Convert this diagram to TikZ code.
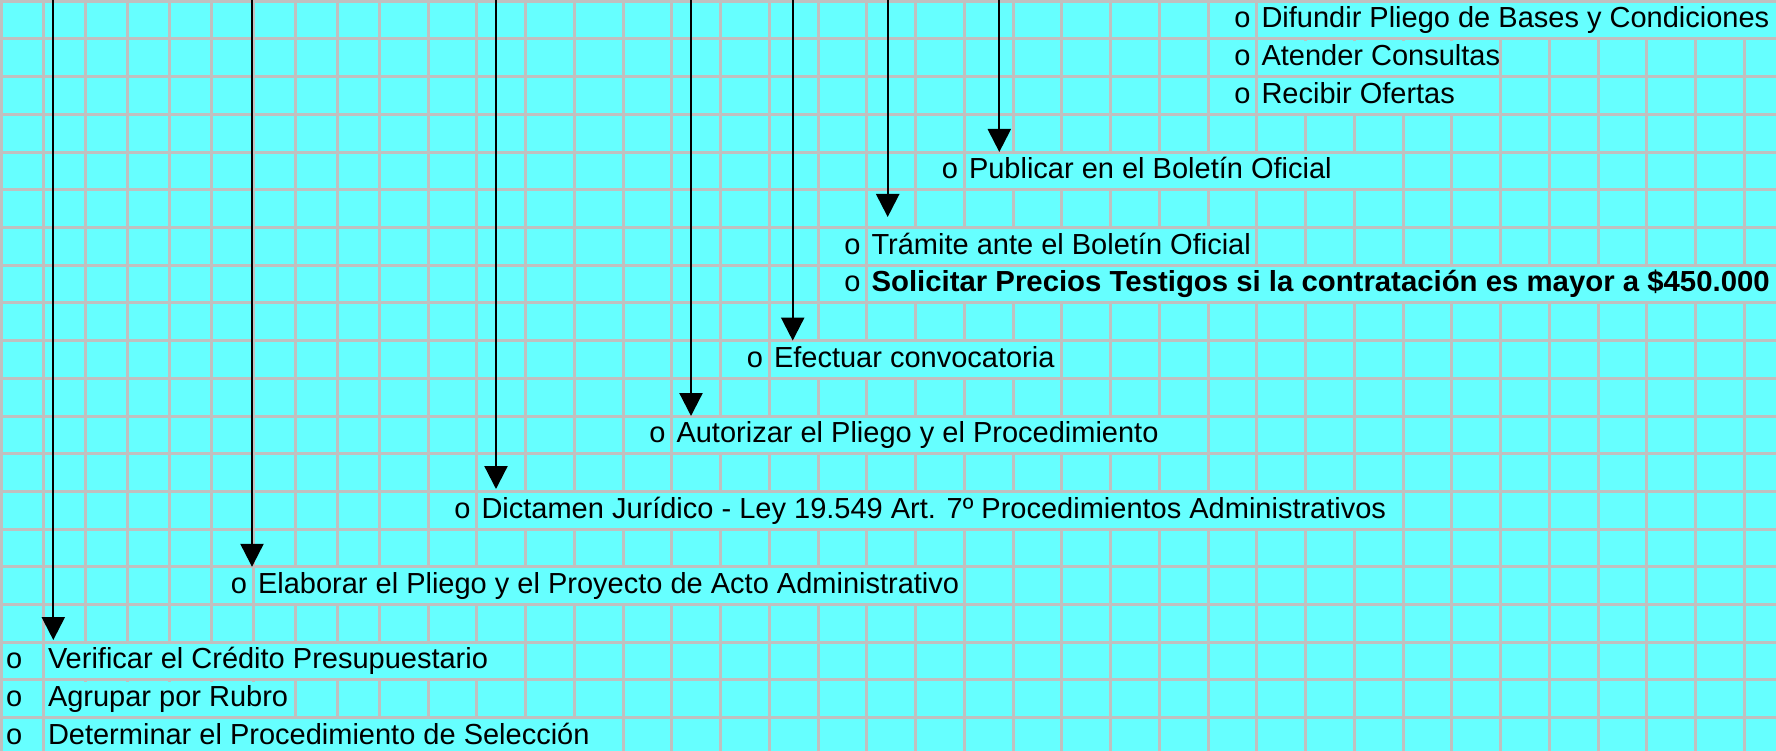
\documentclass[tikz,border=0pt]{standalone}
\usepackage{fontspec}
\setmainfont{Liberation Sans}
\usetikzlibrary{arrows.meta}
\definecolor{cellbg}{HTML}{66FFFF}
\definecolor{gridgray}{HTML}{C0C0C0}
\newcommand\rowtop[1]{1.3+37.7*#1}
\newcommand\rowbase[1]{1.3+37.7*(#1+1)-11}
\newcommand\hidecells[3]{\fill[mask] ({#2+1.6},{1.3+37.7*#1+1.6}) rectangle ({#3-1.6},{1.3+37.7*(#1+1)-1.6});}
\begin{document}
\begin{tikzpicture}[x=1pt,y=-1pt,
  gridline/.style={draw=gridgray,line width=3pt},
  mask/.style={fill=cellbg,draw=none},
  txt/.style={inner sep=0pt,anchor=base west,font=\fontsize{29}{34}\selectfont},
  bulr/.style={inner sep=0pt,anchor=base east,font=\fontsize{29}{34}\selectfont},
  bull/.style={inner sep=0pt,anchor=base west,font=\fontsize{29}{34}\selectfont},
  flow/.style={line width=2.3pt,-{Triangle[width=23pt,length=23pt]}}]
\useasboundingbox (0,0) rectangle (1776,751);
\fill[cellbg] (0,0) rectangle (1776,751);
% grid
\foreach \i in {0,...,9} { \draw[gridline] ({1.3+42*\i},0) -- ({1.3+42*\i},751); }
\foreach \i in {1,...,28} { \draw[gridline] ({379.3+48.75*\i},0) -- ({379.3+48.75*\i},751); }
\foreach \k in {0,...,19} { \draw[gridline] (0,{1.3+37.7*\k}) -- (1776,{1.3+37.7*\k}); }
% overflow areas (text spills over neighbouring cells)
\hidecells{0}{1256.8}{1782}
\hidecells{1}{1256.8}{1500.55}
\hidecells{2}{1256.8}{1500.55}
\hidecells{4}{964.3}{1403.05}
\hidecells{6}{866.8}{1256.8}
\hidecells{7}{866.8}{1782}
\hidecells{9}{769.3}{1061.8}
\hidecells{11}{671.8}{1208.05}
\hidecells{13}{476.8}{1403.05}
\hidecells{15}{253.3}{964.3}
\hidecells{17}{43.3}{525.55}
\hidecells{18}{43.3}{295.3}
\hidecells{19}{43.3}{623.05}
% texts
\node[bulr] (b0) at ({1256.8-6},{\rowbase{0}}) {o};
\node[txt] (t0) at ({1256.8+4.5},{\rowbase{0}}) {Difundir Pliego de Bases y Condiciones};
\node[bulr] (b1) at ({1256.8-6},{\rowbase{1}}) {o};
\node[txt] (t1) at ({1256.8+4.5},{\rowbase{1}}) {Atender Consultas};
\node[bulr] (b2) at ({1256.8-6},{\rowbase{2}}) {o};
\node[txt] (t2) at ({1256.8+4.5},{\rowbase{2}}) {Recibir Ofertas};
\node[bulr] (b4) at ({964.3-6},{\rowbase{4}}) {o};
\node[txt] (t4) at ({964.3+4.5},{\rowbase{4}}) {Publicar en el Boletín Oficial};
\node[bulr] (b6) at ({866.8-6},{\rowbase{6}}) {o};
\node[txt] (t6) at ({866.8+4.5},{\rowbase{6}}) {Trámite ante el Boletín Oficial};
\node[bulr] (b7) at ({866.8-6},{\rowbase{7}}) {o};
\node[txt,xscale=1.012] (t7) at ({866.8+4.5},{\rowbase{7}}) {\bfseries Solicitar Precios Testigos si la contratación es mayor a \$450.000};
\node[bulr] (b9) at ({769.3-6},{\rowbase{9}}) {o};
\node[txt] (t9) at ({769.3+4.5},{\rowbase{9}}) {Efectuar convocatoria};
\node[bulr] (b11) at ({671.8-6},{\rowbase{11}}) {o};
\node[txt] (t11) at ({671.8+4.5},{\rowbase{11}}) {Autorizar el Pliego y el Procedimiento};
\node[bulr] (b13) at ({476.8-6},{\rowbase{13}}) {o};
\node[txt] (t13) at ({476.8+4.5},{\rowbase{13}}) {Dictamen Jurídico - Ley 19.549 Art. 7º Procedimientos Administrativos};
\node[bulr] (b15) at ({253.3-6},{\rowbase{15}}) {o};
\node[txt] (t15) at ({253.3+4.5},{\rowbase{15}}) {Elaborar el Pliego y el Proyecto de Acto Administrativo};
\node[bull] (b17) at ({1.3+4.5},{\rowbase{17}}) {o};
\node[txt] (t17) at ({43.3+4.5},{\rowbase{17}}) {Verificar el Crédito Presupuestario};
\node[bull] (b18) at ({1.3+4.5},{\rowbase{18}}) {o};
\node[txt] (t18) at ({43.3+4.5},{\rowbase{18}}) {Agrupar por Rubro};
\node[bull] (b19) at ({1.3+4.5},{\rowbase{19}}) {o};
\node[txt] (t19) at ({43.3+4.5},{\rowbase{19}}) {Determinar el Procedimiento de Selección};
% arrows
\coordinate (a1s) at (53.3,0);   \coordinate (a1e) at (53.3,640);
\coordinate (a2s) at (252,0);    \coordinate (a2e) at (252,566.8);
\coordinate (a3s) at (496,0);    \coordinate (a3e) at (496,489);
\coordinate (a4s) at (691,0);    \coordinate (a4e) at (691,416);
\coordinate (a5s) at (792.7,0);  \coordinate (a5e) at (792.7,340.6);
\coordinate (a6s) at (887.7,0);  \coordinate (a6e) at (887.7,217);
\coordinate (a7s) at (999.3,0);  \coordinate (a7e) at (999.3,152);
\foreach \n in {1,...,7} { \draw[flow] (a\n s) -- (a\n e); }
\end{tikzpicture}
\end{document}
